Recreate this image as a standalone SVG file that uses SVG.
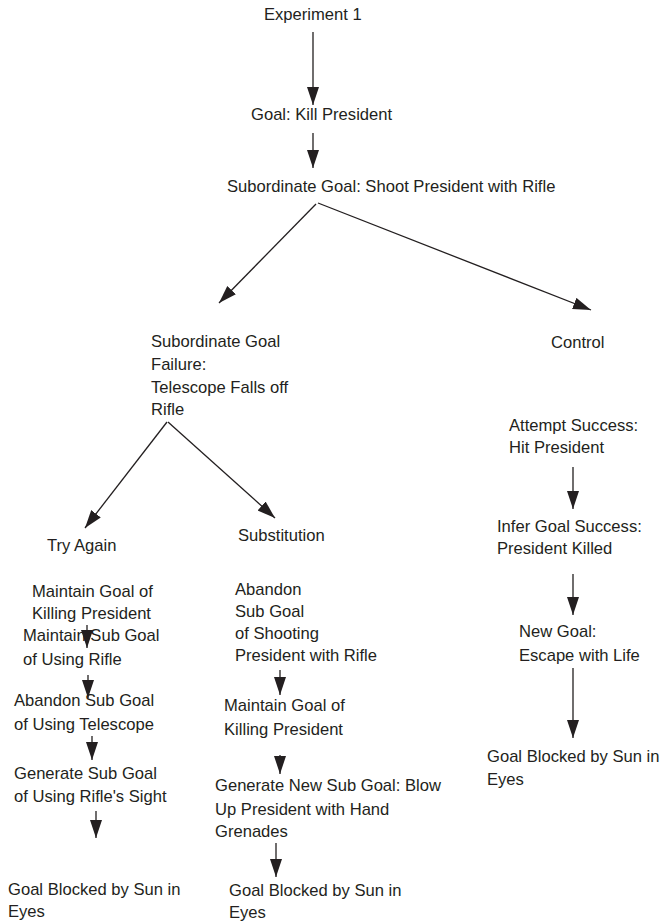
<svg xmlns="http://www.w3.org/2000/svg" width="663" height="922" viewBox="0 0 663 922">
<style>
text{font-family:"Liberation Sans",Arial,sans-serif;font-size:16.6px;fill:#231f20}
.c line{stroke:#231f20;stroke-width:1.3;fill:none;marker-end:url(#ah)}
</style>
<defs>
<marker id="ah" markerUnits="userSpaceOnUse" markerWidth="20" markerHeight="13" refX="18" refY="6" orient="auto">
<path d="M0,0 L18,6 L0,12 Z" fill="#231f20"/>
</marker>
</defs>
<rect width="663" height="922" fill="#fff"/>
<g class="c" id="connectors">
<line x1="313" y1="32" x2="313" y2="105"/>
<line x1="313" y1="133" x2="313" y2="168"/>
<line x1="316" y1="204" x2="219" y2="303"/>
<line x1="318" y1="203" x2="591" y2="310"/>
<line x1="167" y1="422" x2="85" y2="528"/>
<line x1="168" y1="422" x2="275" y2="518"/>
<line x1="87" y1="625" x2="87" y2="648"/>
<line x1="88" y1="675" x2="88" y2="698"/>
<line x1="92" y1="736" x2="92" y2="760"/>
<line x1="96" y1="811" x2="96" y2="838"/>
<line x1="280" y1="670" x2="280" y2="695"/>
<line x1="280" y1="755" x2="280" y2="774"/>
<line x1="276" y1="843" x2="276" y2="877"/>
<line x1="573" y1="467" x2="573" y2="509"/>
<line x1="573" y1="574" x2="573" y2="615"/>
<line x1="573" y1="668" x2="573" y2="738"/>
</g>
<g id="n-exp"><text x="264" y="20">Experiment 1</text></g>
<g id="n-goal"><text x="251" y="120">Goal: Kill President</text></g>
<g id="n-sub"><text x="227" y="192">Subordinate Goal: Shoot President with Rifle</text></g>
<g id="n-fail"><text x="151" y="347">Subordinate Goal</text><text x="151" y="370">Failure:</text><text x="151" y="393">Telescope Falls off</text><text x="151" y="415">Rifle</text></g>
<g id="n-control"><text x="551" y="348">Control</text></g>
<g id="n-try"><text x="47" y="551">Try Again</text></g>
<g id="n-subst"><text x="238" y="541">Substitution</text></g>
<g id="n-l1"><text x="32" y="597">Maintain Goal of</text><text x="32" y="619">Killing President</text></g>
<g id="n-l2"><text x="23" y="641">Maintain Sub Goal</text><text x="23" y="665">of Using Rifle</text></g>
<g id="n-l3"><text x="14" y="706">Abandon Sub Goal</text><text x="14" y="730">of Using Telescope</text></g>
<g id="n-l4"><text x="14" y="779">Generate Sub Goal</text><text x="14" y="802">of Using Rifle's Sight</text></g>
<g id="n-l5"><text x="8" y="895">Goal Blocked by Sun in</text><text x="8" y="917">Eyes</text></g>
<g id="n-m1"><text x="235" y="595">Abandon</text><text x="235" y="617">Sub Goal</text><text x="235" y="639">of Shooting</text><text x="235" y="661">President with Rifle</text></g>
<g id="n-m2"><text x="224" y="711">Maintain Goal of</text><text x="224" y="735">Killing President</text></g>
<g id="n-m3"><text x="215" y="791">Generate New Sub Goal: Blow</text><text x="215" y="815">Up President with Hand</text><text x="215" y="837">Grenades</text></g>
<g id="n-m4"><text x="229" y="896">Goal Blocked by Sun in</text><text x="229" y="918">Eyes</text></g>
<g id="n-r1"><text x="509" y="431">Attempt Success:</text><text x="509" y="453">Hit President</text></g>
<g id="n-r2"><text x="497" y="532">Infer Goal Success:</text><text x="497" y="554">President Killed</text></g>
<g id="n-r3"><text x="519" y="637">New Goal:</text><text x="519" y="661">Escape with Life</text></g>
<g id="n-r4"><text x="487" y="762">Goal Blocked by Sun in</text><text x="487" y="785">Eyes</text></g>
</svg>
